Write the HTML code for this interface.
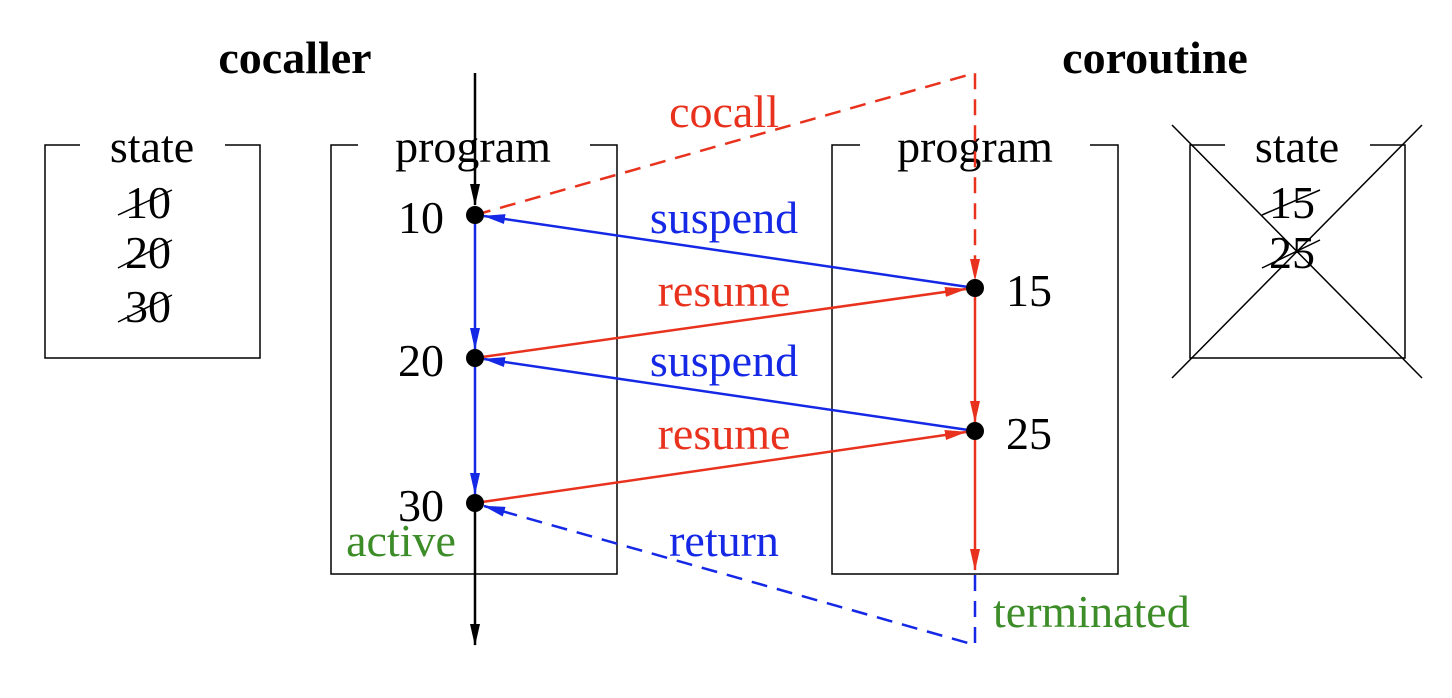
<!DOCTYPE html>
<html><head><meta charset="utf-8"><style>
html,body{margin:0;padding:0;background:#fff;}
svg{display:block;}
text{font-family:"Liberation Serif",serif;font-size:46px;}
</style></head><body>
<svg width="1452" height="698" viewBox="0 0 1452 698" xmlns="http://www.w3.org/2000/svg">
<defs>
<marker id="ab" markerWidth="22" markerHeight="10" refX="21" refY="5" orient="auto" markerUnits="userSpaceOnUse" viewBox="0 0 22 10"><path d="M0,0 L22,5 L0,10 z" fill="#1428e6"/></marker>
<marker id="ar" markerWidth="22" markerHeight="10" refX="21" refY="5" orient="auto" markerUnits="userSpaceOnUse" viewBox="0 0 22 10"><path d="M0,0 L22,5 L0,10 z" fill="#e8321e"/></marker>
<marker id="akb" markerWidth="22" markerHeight="10" refX="21" refY="5" orient="auto" markerUnits="userSpaceOnUse" viewBox="0 0 22 10"><path d="M0,0 L22,5 L0,10 z" fill="#000"/></marker>
</defs>
<g stroke="#000" stroke-width="1.5" fill="none">
<path d="M80,145 H45 V358 H260 V145 H225"/>
<path d="M358,145 H331 V574 H617 V145 H590"/>
<path d="M860,145 H832 V574 H1118 V145 H1090"/>
<path d="M1225,145 H1190 V358 H1405 V145 H1370"/>
<line x1="1172" y1="125" x2="1422" y2="378"/>
<line x1="1422" y1="125" x2="1172" y2="378"/>
<line x1="118" y1="215" x2="172" y2="190"/>
<line x1="118" y1="268" x2="172" y2="240"/>
<line x1="118" y1="322" x2="172" y2="295"/>
<line x1="1262" y1="215" x2="1320" y2="190"/>
<line x1="1262" y1="268" x2="1320" y2="240"/>
</g>
<g>
<text x="295" y="73" text-anchor="middle" font-weight="bold">cocaller</text>
<text x="1155" y="73" text-anchor="middle" font-weight="bold">coroutine</text>
<text x="152" y="162" text-anchor="middle">state</text>
<text x="473" y="162" text-anchor="middle">program</text>
<text x="975" y="162" text-anchor="middle">program</text>
<text x="1297" y="162" text-anchor="middle">state</text>
<text x="148" y="218" text-anchor="middle">10</text>
<text x="148" y="268" text-anchor="middle">20</text>
<text x="148" y="322" text-anchor="middle">30</text>
<text x="1292" y="218" text-anchor="middle">15</text>
<text x="1292" y="268" text-anchor="middle">25</text>
<text x="444" y="233" text-anchor="end">10</text>
<text x="444" y="376" text-anchor="end">20</text>
<text x="444" y="521" text-anchor="end">30</text>
<text x="1006" y="306">15</text>
<text x="1006" y="449">25</text>
<text x="724" y="127" text-anchor="middle" fill="#e8321e">cocall</text>
<text x="724" y="233" text-anchor="middle" fill="#1428e6">suspend</text>
<text x="724" y="306" text-anchor="middle" fill="#e8321e">resume</text>
<text x="724" y="376" text-anchor="middle" fill="#1428e6">suspend</text>
<text x="724" y="449" text-anchor="middle" fill="#e8321e">resume</text>
<text x="724" y="556" text-anchor="middle" fill="#1428e6">return</text>
<text x="401" y="556" text-anchor="middle" fill="#3c8c28">active</text>
<text x="993" y="627" fill="#3c8c28">terminated</text>
</g>
<line x1="475" y1="73" x2="475" y2="205" stroke="#000" stroke-width="2.5" marker-end="url(#akb)"/>
<line x1="475" y1="503" x2="475" y2="645" stroke="#000" stroke-width="2.5" marker-end="url(#akb)"/>
<line x1="475" y1="215" x2="475" y2="349" stroke="#1428e6" stroke-width="2.5" marker-end="url(#ab)"/>
<line x1="475" y1="358" x2="475" y2="494" stroke="#1428e6" stroke-width="2.5" marker-end="url(#ab)"/>
<line x1="975" y1="288" x2="975" y2="422" stroke="#e8321e" stroke-width="2.5" marker-end="url(#ar)"/>
<line x1="975" y1="431" x2="975" y2="570" stroke="#e8321e" stroke-width="2.5" marker-end="url(#ar)"/>
<path d="M475,215 L975,73 L975,280" fill="none" stroke="#e8321e" stroke-width="2.5" stroke-dasharray="16,10" marker-end="url(#ar)"/>
<path d="M975,575 L975,645 L484,506" fill="none" stroke="#1428e6" stroke-width="2.5" stroke-dasharray="16,10" marker-end="url(#ab)"/>
<line x1="975" y1="288" x2="484" y2="216" stroke="#1428e6" stroke-width="2.5" marker-end="url(#ab)"/>
<line x1="975" y1="431" x2="484" y2="359" stroke="#1428e6" stroke-width="2.5" marker-end="url(#ab)"/>
<line x1="475" y1="358" x2="966" y2="289" stroke="#e8321e" stroke-width="2.5" marker-end="url(#ar)"/>
<line x1="475" y1="503" x2="966" y2="432" stroke="#e8321e" stroke-width="2.5" marker-end="url(#ar)"/>
<g fill="#000">
<circle cx="475" cy="215" r="9"/>
<circle cx="475" cy="358" r="9"/>
<circle cx="475" cy="503" r="9"/>
<circle cx="975" cy="288" r="9"/>
<circle cx="975" cy="431" r="9"/>
</g>
</svg>
</body></html>
